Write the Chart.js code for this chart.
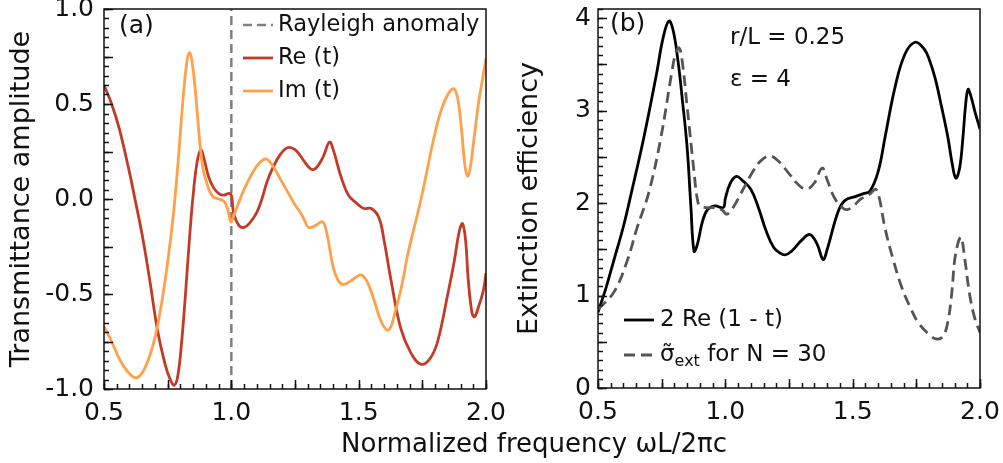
<!DOCTYPE html>
<html>
<head>
<meta charset="utf-8">
<script src="https://cdn.jsdelivr.net/npm/chart.js@4/dist/chart.umd.min.js"></script>
<style>
  html, body { margin: 0; padding: 0; background: #fff; overflow: hidden; }
  #wrap { position: relative; width: 1003px; height: 463px; font-family: "DejaVu Sans", sans-serif; }
  canvas { position: absolute; top: 0; }
  #left { left: 0; }
  #right { left: 500px; }
  #xtitle { position: absolute; left: 234px; width: 600px; top: 428px; text-align: center;
            font-size: 26px; line-height: 30px; color: #111; white-space: nowrap; }
</style>
</head>
<body>
<div id="wrap">
  <canvas id="left" width="530" height="463"></canvas>
  <canvas id="right" width="503" height="463"></canvas>
  <div id="xtitle">Normalized frequency ωL/2πc</div>
</div>
<script>
// (a) transmittance amplitude
const reFreq = [0.50, 0.53, 0.56, 0.60, 0.62, 0.65, 0.68, 0.71, 0.74, 0.76, 0.776, 0.79, 0.805, 0.82, 0.835, 0.85, 0.865, 0.88, 0.895, 0.91, 0.93, 0.95, 0.97, 0.99, 1.00, 1.01, 1.03, 1.05, 1.07, 1.10, 1.12, 1.14, 1.165, 1.19, 1.22, 1.25, 1.28, 1.31, 1.33, 1.36, 1.385, 1.40, 1.43, 1.46, 1.49, 1.52, 1.55, 1.58, 1.60, 1.626, 1.665, 1.705, 1.745, 1.78, 1.81, 1.85, 1.875, 1.895, 1.908, 1.92, 1.93, 1.945, 1.955, 1.97, 1.99, 2.00]
const reT = [0.60, 0.50, 0.37, 0.14, 0.01, -0.19, -0.43, -0.69, -0.87, -0.95, -0.98, -0.93, -0.75, -0.50, -0.22, 0.02, 0.19, 0.26, 0.20, 0.12, 0.06, 0.03, 0.02, 0.03, 0.02, -0.08, -0.14, -0.15, -0.13, -0.07, 0.00, 0.09, 0.17, 0.23, 0.27, 0.26, 0.21, 0.16, 0.16, 0.22, 0.30, 0.26, 0.12, 0.02, -0.02, -0.05, -0.05, -0.10, -0.22, -0.42, -0.68, -0.81, -0.87, -0.84, -0.75, -0.50, -0.33, -0.17, -0.13, -0.22, -0.42, -0.60, -0.62, -0.57, -0.48, -0.39]

const imFreq = [0.50, 0.53, 0.56, 0.60, 0.63, 0.66, 0.69, 0.71, 0.74, 0.77, 0.79, 0.81, 0.825, 0.835, 0.845, 0.86, 0.878, 0.89, 0.90, 0.915, 0.93, 0.95, 0.97, 0.985, 0.995, 1.00, 1.02, 1.05, 1.08, 1.11, 1.138, 1.165, 1.19, 1.22, 1.25, 1.275, 1.29, 1.303, 1.33, 1.358, 1.375, 1.40, 1.42, 1.44, 1.47, 1.49, 1.512, 1.535, 1.56, 1.59, 1.618, 1.646, 1.67, 1.693, 1.72, 1.745, 1.77, 1.795, 1.82, 1.85, 1.874, 1.89, 1.905, 1.918, 1.929, 1.94, 1.955, 1.97, 1.985, 2.00]
const imT = [-0.67, -0.75, -0.84, -0.92, -0.94, -0.89, -0.78, -0.67, -0.43, -0.11, 0.18, 0.52, 0.72, 0.77, 0.73, 0.55, 0.27, 0.15, 0.10, 0.04, 0.01, 0.00, -0.01, -0.05, -0.11, -0.12, -0.05, 0.05, 0.13, 0.19, 0.21, 0.17, 0.11, 0.04, -0.03, -0.08, -0.12, -0.15, -0.14, -0.12, -0.18, -0.36, -0.43, -0.45, -0.43, -0.41, -0.40, -0.44, -0.53, -0.65, -0.69, -0.58, -0.45, -0.29, -0.14, 0.00, 0.16, 0.32, 0.45, 0.55, 0.58, 0.52, 0.35, 0.17, 0.12, 0.18, 0.34, 0.50, 0.62, 0.74]

const rayleighFreq = [1.0, 1.0]
const rayleighT = [-1.0, 1.0]

// (b) extinction efficiency
const extFreq = [0.50, 0.53, 0.56, 0.60, 0.63, 0.68, 0.73, 0.755, 0.778, 0.795, 0.815, 0.83, 0.85, 0.865, 0.877, 0.89, 0.91, 0.93, 0.96, 0.985, 0.995, 1.00, 1.02, 1.044, 1.065, 1.10, 1.13, 1.16, 1.19, 1.215, 1.234, 1.26, 1.30, 1.332, 1.36, 1.384, 1.40, 1.443, 1.47, 1.51, 1.54, 1.568, 1.60, 1.627, 1.666, 1.705, 1.745, 1.78, 1.80, 1.823, 1.85, 1.874, 1.89, 1.905, 1.92, 1.933, 1.943, 1.953, 1.965, 1.98, 2.00]
const extEff = [0.82, 1.07, 1.36, 1.75, 2.10, 2.71, 3.40, 3.78, 3.97, 3.87, 3.52, 3.15, 2.60, 1.95, 1.48, 1.55, 1.80, 1.93, 1.97, 1.95, 1.96, 2.05, 2.22, 2.29, 2.25, 2.15, 1.95, 1.70, 1.52, 1.46, 1.44, 1.48, 1.60, 1.66, 1.56, 1.39, 1.50, 1.91, 2.03, 2.07, 2.10, 2.13, 2.34, 2.71, 3.25, 3.61, 3.74, 3.67, 3.56, 3.36, 3.03, 2.71, 2.44, 2.27, 2.38, 2.71, 3.05, 3.23, 3.15, 2.99, 2.80]

const sigFreq = [0.50, 0.563, 0.614, 0.653, 0.70, 0.747, 0.79, 0.805, 0.818, 0.83, 0.849, 0.877, 0.889, 0.90, 0.93, 0.967, 0.99, 1.006, 1.03, 1.07, 1.11, 1.14, 1.175, 1.21, 1.25, 1.29, 1.32, 1.35, 1.38, 1.40, 1.43, 1.46, 1.478, 1.50, 1.53, 1.568, 1.59, 1.605, 1.627, 1.66, 1.694, 1.73, 1.757, 1.80, 1.83, 1.855, 1.874, 1.89, 1.90, 1.915, 1.926, 1.94, 1.96, 1.98, 2.00]
const sigExt = [0.85, 1.04, 1.37, 1.73, 2.12, 2.71, 3.42, 3.62, 3.68, 3.55, 3.07, 2.34, 2.06, 1.97, 1.95, 1.95, 1.92, 1.88, 1.95, 2.15, 2.35, 2.46, 2.51, 2.45, 2.32, 2.19, 2.15, 2.22, 2.38, 2.25, 2.05, 1.95, 1.93, 1.96, 2.04, 2.10, 2.15, 2.05, 1.73, 1.38, 1.08, 0.85, 0.71, 0.58, 0.53, 0.56, 0.72, 1.05, 1.37, 1.58, 1.63, 1.40, 1.00, 0.75, 0.60]

// tick labels
const freqTicks = [0.5, 1.0, 1.5, 2.0]
const ampTicks = [-1.0, -0.5, 0.0, 0.5, 1.0]
const effTicks = [0, 1, 2, 3, 4]

const pts = (xs, ys) => xs.map((x, i) => ({ x, y: ys[i] }))

Chart.defaults.font.family = '"DejaVu Sans", sans-serif'
Chart.defaults.color = '#111'

const FONT = '"DejaVu Sans", sans-serif'

// box around the plot and inward ticks
const frame = {
  id: 'frame',
  afterDatasetsDraw(chart, args, opts) {
    const { ctx, chartArea: a, scales: { x, y } } = chart
    ctx.save()
    ctx.strokeStyle = '#111'
    ctx.lineWidth = 1.5
    const mark = (scale, step, len, horiz) => {
      const n0 = Math.ceil(scale.min / step - 1e-6)
      const n1 = Math.floor(scale.max / step + 1e-6)
      for (let n = n0; n <= n1; n++) {
        const p = Math.round(scale.getPixelForValue(n * step)) + 0.5
        ctx.beginPath()
        if (horiz) { ctx.moveTo(p, a.bottom); ctx.lineTo(p, a.bottom - len) }
        else { ctx.moveTo(a.left, p); ctx.lineTo(a.left + len, p) }
        ctx.stroke()
      }
    }
    mark(x, opts.xMinor, 5, true)
    mark(x, opts.xMajor, 9, true)
    mark(y, opts.yMinor, 5, false)
    mark(y, opts.yMajor, 9, false)
    ctx.strokeRect(a.left, a.top, a.right - a.left, a.bottom - a.top)
    ctx.restore()
  }
}

// legend rows and panel notes inside the plot
const notes = {
  id: 'notes',
  afterDraw(chart, args, opts) {
    const { ctx } = chart
    ctx.save()
    ctx.fillStyle = '#111'
    ctx.textBaseline = 'middle'
    ctx.textAlign = 'left'
    for (const t of opts.texts || []) {
      ctx.font = t.size + 'px ' + FONT
      ctx.fillText(t.text, t.x, t.y)
    }
    const lg = opts.legend
    if (lg) {
      lg.rows.forEach((r, i) => {
        const ds = chart.data.datasets[r.dataset]
        const y = lg.y + i * lg.gap
        ctx.strokeStyle = ds.borderColor
        ctx.lineWidth = ds.borderWidth
        ctx.setLineDash(ds.borderDash || [])
        ctx.beginPath()
        ctx.moveTo(lg.x, y)
        ctx.lineTo(lg.x + lg.len, y)
        ctx.stroke()
        ctx.setLineDash([])
        // label, with _{...} as subscript
        let tx = lg.x + lg.len + lg.pad
        const parts = ds.label.split(/_\{(.*?)\}/)
        parts.forEach((p, k) => {
          const sub = k % 2 === 1
          ctx.font = (sub ? Math.round(lg.size * 0.7) : lg.size) + 'px ' + FONT
          ctx.fillText(p, tx, sub ? y + lg.size * 0.3 : y)
          tx += ctx.measureText(p).width
        })
      })
    }
    ctx.restore()
  }
}

const tickFont = { size: 25 }
const titleFont = { size: 27 }
const TENSION = 0.4

function xScale(h) {
  return {
    type: 'linear', min: 0.5, max: 2.0,
    grid: { display: false, drawTicks: false },
    border: { display: false },
    ticks: { padding: 9, font: tickFont, color: '#111', autoSkip: false, maxRotation: 0,
      callback: v => v.toFixed(1) },
    afterBuildTicks: s => { s.ticks = freqTicks.map(v => ({ value: v })) },
    afterFit: s => { s.height = h; s.paddingLeft = 0; s.paddingRight = 0 }
  }
}

new Chart(document.getElementById('left'), {
  type: 'line',
  data: {
    datasets: [
      { label: 'Rayleigh anomaly', data: pts(rayleighFreq, rayleighT), borderColor: '#808080',
        borderWidth: 2.5, borderDash: [9, 5], pointRadius: 0, order: 3 },
      { label: 'Re (t)', data: pts(reFreq, reT), borderColor: '#c33b26', borderWidth: 2.8,
        pointRadius: 0, tension: TENSION, order: 2 },
      { label: 'Im (t)', data: pts(imFreq, imT), borderColor: '#ffa04a', borderWidth: 2.8,
        pointRadius: 0, tension: TENSION, order: 1 }
    ]
  },
  options: {
    responsive: false,
    animation: false,
    events: [],
    layout: { autoPadding: false, padding: { left: 0, top: 9, right: 44, bottom: 0 } },
    scales: {
      x: xScale(74),
      y: {
        type: 'linear', min: -1, max: 1,
        grid: { display: false, drawTicks: false },
        border: { display: false },
        ticks: { padding: 10, font: tickFont, color: '#111', callback: v => v.toFixed(1) },
        afterBuildTicks: s => { s.ticks = ampTicks.map(v => ({ value: v })) },
        afterFit: s => { s.width = 104; s.paddingTop = 0; s.paddingBottom = 0 },
        title: { display: true, text: 'Transmittance amplitude', font: titleFont, color: '#111',
          padding: { top: 6, bottom: 0 } }
      }
    },
    plugins: {
      legend: { display: false },
      tooltip: { enabled: false },
      frame: { xMajor: 0.25, xMinor: 0.05, yMajor: 0.25, yMinor: 0.05 },
      notes: {
        texts: [{ text: '(a)', x: 119, y: 26, size: 25 }],
        legend: { x: 243, y: 25, gap: 33, len: 30, pad: 5, size: 22.5, rows: [
          { dataset: 0 }, { dataset: 1 }, { dataset: 2 }] }
      }
    }
  },
  plugins: [frame, notes]
})

new Chart(document.getElementById('right'), {
  type: 'line',
  data: {
    datasets: [
      { label: '2 Re (1 - t)', data: pts(extFreq, extEff), borderColor: '#000', borderWidth: 2.8,
        pointRadius: 0, tension: TENSION, order: 2 },
      { label: 'σ̃_{ext} for N = 30', data: pts(sigFreq, sigExt), borderColor: '#555',
        borderWidth: 2.8, borderDash: [11, 6], pointRadius: 0, tension: TENSION, order: 1 }
    ]
  },
  options: {
    responsive: false,
    animation: false,
    events: [],
    layout: { autoPadding: false, padding: { left: 0, top: 9, right: 23, bottom: 0 } },
    scales: {
      x: xScale(75),
      y: {
        type: 'linear', min: 0, max: 4.1,
        grid: { display: false, drawTicks: false },
        border: { display: false },
        ticks: { padding: 7, font: tickFont, color: '#111', callback: v => String(v) },
        afterBuildTicks: s => { s.ticks = effTicks.map(v => ({ value: v })) },
        afterFit: s => { s.width = 98; s.paddingTop = 0; s.paddingBottom = 0 },
        title: { display: true, text: 'Extinction efficiency', font: titleFont, color: '#111',
          padding: { top: 14, bottom: 0 } }
      }
    },
    plugins: {
      legend: { display: false },
      tooltip: { enabled: false },
      frame: { xMajor: 0.25, xMinor: 0.05, yMajor: 0.5, yMinor: 0.1 },
      notes: {
        texts: [
          { text: '(b)', x: 110, y: 24, size: 25 },
          { text: 'r/L = 0.25', x: 230, y: 38, size: 23 },
          { text: 'ε = 4', x: 230, y: 80, size: 23 }
        ],
        legend: { x: 124, y: 320, gap: 35, len: 30, pad: 6, size: 23, rows: [
          { dataset: 0 }, { dataset: 1 }] }
      }
    }
  },
  plugins: [frame, notes]
})
</script>
</body>
</html>
